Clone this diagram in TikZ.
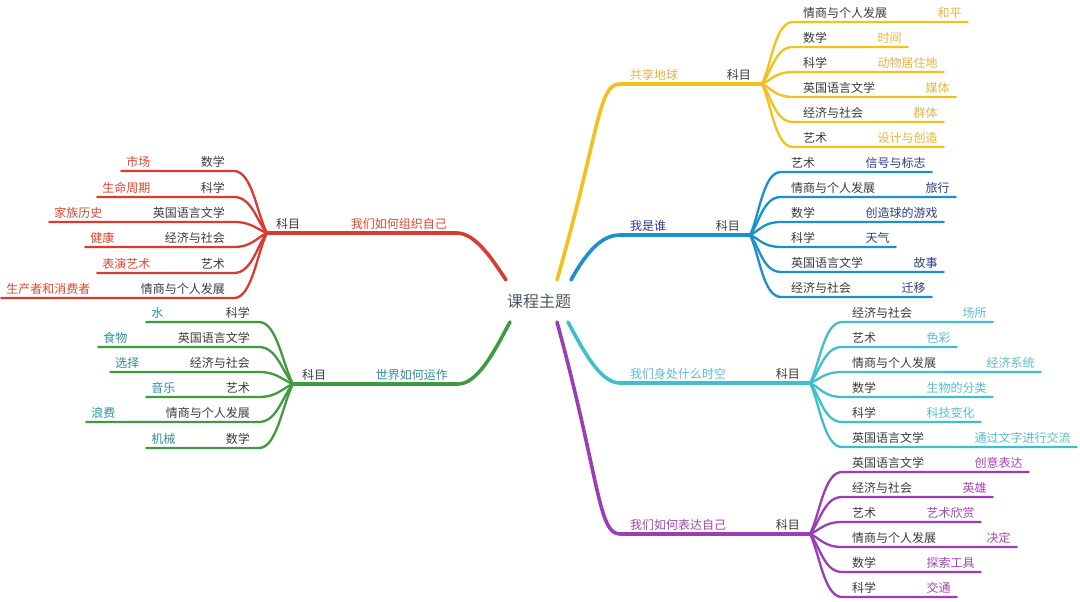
\documentclass[tikz,border=0pt]{standalone}
\usepackage{fontspec}
\setmainfont{Noto Sans CJK SC}
\usetikzlibrary{calc}
\definecolor{yL}{HTML}{F3C11B}
\definecolor{yT}{HTML}{E6B53A}
\definecolor{bL}{HTML}{1A90CF}
\definecolor{bT}{HTML}{2E3E80}
\definecolor{cL}{HTML}{3FBFCC}
\definecolor{cT}{HTML}{5ABDC9}
\definecolor{pL}{HTML}{9B3EB6}
\definecolor{pT}{HTML}{A445B3}
\definecolor{rL}{HTML}{D83B30}
\definecolor{rT}{HTML}{E2452F}
\definecolor{gL}{HTML}{409B40}
\definecolor{gT}{HTML}{2D8F9E}
\definecolor{subc}{HTML}{3B3B3B}
\definecolor{ctr}{HTML}{4E5962}
\tikzset{
  lbl/.style={inner sep=0pt, font=\fontsize{12pt}{14pt}\selectfont},
  subj/.style={lbl, text=subc},
  mainline/.style={line width=3.6pt, line cap=round},
  childline/.style={line width=2.3pt, line cap=round},
}
% right row: hub, prefix, line y, subject x, subject, topic, line colour, topic colour
\newcommand\rrow[8]{%
  \node[subj, anchor=base west] (#2s) at (#4, #3-4.5) {#5};
  \node[lbl, text=#8, anchor=base west] (#2t) at ([xshift=50pt]#2s.base east) {#6};
  \coordinate (#2a) at (#4-10, #3);
  \coordinate (#2e) at ([xshift=6pt]#2t.east);
  \draw[childline, #7] (#1) .. controls ($(#1)!0.3!(#2a)$) and ($(#2a)+(-18,0)$) .. (#2a) -- (#2e |- #2a);
}
% left row: hub, prefix, line y, subject east x, subject, topic, line colour, topic colour
\newcommand\lrow[8]{%
  \node[subj, anchor=base east] (#2s) at (#4, #3-4.5) {#5};
  \node[lbl, text=#8, anchor=base east] (#2t) at ([xshift=-50pt]#2s.base west) {#6};
  \coordinate (#2a) at (#4+9, #3);
  \coordinate (#2e) at ([xshift=-5pt]#2t.west);
  \draw[childline, #7] (#1) .. controls ($(#1)!0.3!(#2a)$) and ($(#2a)+(18,0)$) .. (#2a) -- (#2e |- #2a);
}
\begin{document}
\begin{tikzpicture}[x=1pt,y=-1pt]
\useasboundingbox (0,0) rectangle (1080,602);
\fill[white] (0,0) rectangle (1080,602);

% centre
\node[inner sep=0pt, font=\fontsize{16pt}{18pt}\selectfont, text=ctr] (c) at (539,301) {课程主题};

% ---------- yellow: 共享地球
\coordinate (y0) at (557,280);
\coordinate (yb) at (620,84);
\coordinate (yh) at (762,84);
\draw[mainline, yL] (y0) .. controls (600,130) and (598,84) .. (yb) -- (yh);
\node[lbl, text=yT, anchor=base west] (ylab) at (630,79.5) {共享地球};
\node[subj, anchor=base east] (ykm) at (751,79.5) {科目};
\rrow{yh}{y1}{22}{803}{情商与个人发展}{和平}{yL}{yT}
\rrow{yh}{y2}{47}{803}{数学}{时间}{yL}{yT}
\rrow{yh}{y3}{72}{803}{科学}{动物居住地}{yL}{yT}
\rrow{yh}{y4}{97}{803}{英国语言文学}{媒体}{yL}{yT}
\rrow{yh}{y5}{122}{803}{经济与社会}{群体}{yL}{yT}
\rrow{yh}{y6}{147}{803}{艺术}{设计与创造}{yL}{yT}

% ---------- blue: 我是谁
\coordinate (b0) at (571,280);
\coordinate (bb) at (620,235);
\coordinate (bh) at (750,235);
\draw[mainline, bL] (b0) .. controls (585,255) and (600,235) .. (bb) -- (bh);
\node[lbl, text=bT, anchor=base west] (blab) at (630,230.5) {我是谁};
\node[subj, anchor=base east] (bkm) at (740,230.5) {科目};
\rrow{bh}{b1}{172}{791}{艺术}{信号与标志}{bL}{bT}
\rrow{bh}{b2}{197}{791}{情商与个人发展}{旅行}{bL}{bT}
\rrow{bh}{b3}{222}{791}{数学}{创造球的游戏}{bL}{bT}
\rrow{bh}{b4}{247}{791}{科学}{天气}{bL}{bT}
\rrow{bh}{b5}{272}{791}{英国语言文学}{故事}{bL}{bT}
\rrow{bh}{b6}{297}{791}{经济与社会}{迁移}{bL}{bT}

% ---------- cyan: 我们身处什么时空
\coordinate (c0) at (568,322);
\coordinate (cb) at (620,383);
\coordinate (ch) at (810,383);
\draw[mainline, cL] (c0) .. controls (583,350) and (600,383) .. (cb) -- (ch);
\node[lbl, text=cT, anchor=base west] (clab) at (630,378.5) {我们身处什么时空};
\node[subj, anchor=base east] (ckm) at (800,378.5) {科目};
\rrow{ch}{c1}{322}{852}{经济与社会}{场所}{cL}{cT}
\rrow{ch}{c2}{347}{852}{艺术}{色彩}{cL}{cT}
\rrow{ch}{c3}{372}{852}{情商与个人发展}{经济系统}{cL}{cT}
\rrow{ch}{c4}{397}{852}{数学}{生物的分类}{cL}{cT}
\rrow{ch}{c5}{422}{852}{科学}{科技变化}{cL}{cT}
\rrow{ch}{c6}{447}{852}{英国语言文学}{通过文字进行交流}{cL}{cT}

% ---------- purple: 我们如何表达自己
\coordinate (p0) at (557,322);
\coordinate (pb) at (620,534);
\coordinate (ph) at (810,534);
\draw[mainline, pL] (p0) .. controls (600,480) and (598,534) .. (pb) -- (ph);
\node[lbl, text=pT, anchor=base west] (plab) at (630,529.5) {我们如何表达自己};
\node[subj, anchor=base east] (pkm) at (800,529.5) {科目};
\rrow{ph}{p1}{472}{852}{英国语言文学}{创意表达}{pL}{pT}
\rrow{ph}{p2}{497}{852}{经济与社会}{英雄}{pL}{pT}
\rrow{ph}{p3}{522}{852}{艺术}{艺术欣赏}{pL}{pT}
\rrow{ph}{p4}{547}{852}{情商与个人发展}{决定}{pL}{pT}
\rrow{ph}{p5}{572}{852}{数学}{探索工具}{pL}{pT}
\rrow{ph}{p6}{597}{852}{科学}{交通}{pL}{pT}

% ---------- red: 我们如何组织自己
\coordinate (r0) at (506,280);
\coordinate (rb) at (457,233);
\coordinate (rh) at (267,233);
\draw[mainline, rL] (r0) .. controls (494,262) and (476,233) .. (rb) -- (rh);
\node[lbl, text=rT, anchor=base east] (rlab) at (447,228.5) {我们如何组织自己};
\node[subj, anchor=base west] (rkm) at (276,228.5) {科目};
\lrow{rh}{r1}{171}{225}{数学}{市场}{rL}{rT}
\lrow{rh}{r2}{197}{225}{科学}{生命周期}{rL}{rT}
\lrow{rh}{r3}{222}{225}{英国语言文学}{家族历史}{rL}{rT}
\lrow{rh}{r4}{247}{225}{经济与社会}{健康}{rL}{rT}
\lrow{rh}{r5}{273}{225}{艺术}{表演艺术}{rL}{rT}
\lrow{rh}{r6}{298}{225}{情商与个人发展}{生产者和消费者}{rL}{rT}

% ---------- green: 世界如何运作
\coordinate (g0) at (510,322);
\coordinate (gb) at (458,384);
\coordinate (gh) at (293,384);
\draw[mainline, gL] (g0) .. controls (495,350) and (478,384) .. (gb) -- (gh);
\node[lbl, text=gT, anchor=base east] (glab) at (448,379.5) {世界如何运作};
\node[subj, anchor=base west] (gkm) at (302,379.5) {科目};
\lrow{gh}{g1}{322}{250}{科学}{\makebox[24pt][l]{水}}{gL}{gT}
\lrow{gh}{g2}{347}{250}{英国语言文学}{食物}{gL}{gT}
\lrow{gh}{g3}{372}{250}{经济与社会}{选择}{gL}{gT}
\lrow{gh}{g4}{397}{250}{艺术}{音乐}{gL}{gT}
\lrow{gh}{g5}{422}{250}{情商与个人发展}{浪费}{gL}{gT}
\lrow{gh}{g6}{448}{250}{数学}{机械}{gL}{gT}
\end{tikzpicture}
\end{document}
